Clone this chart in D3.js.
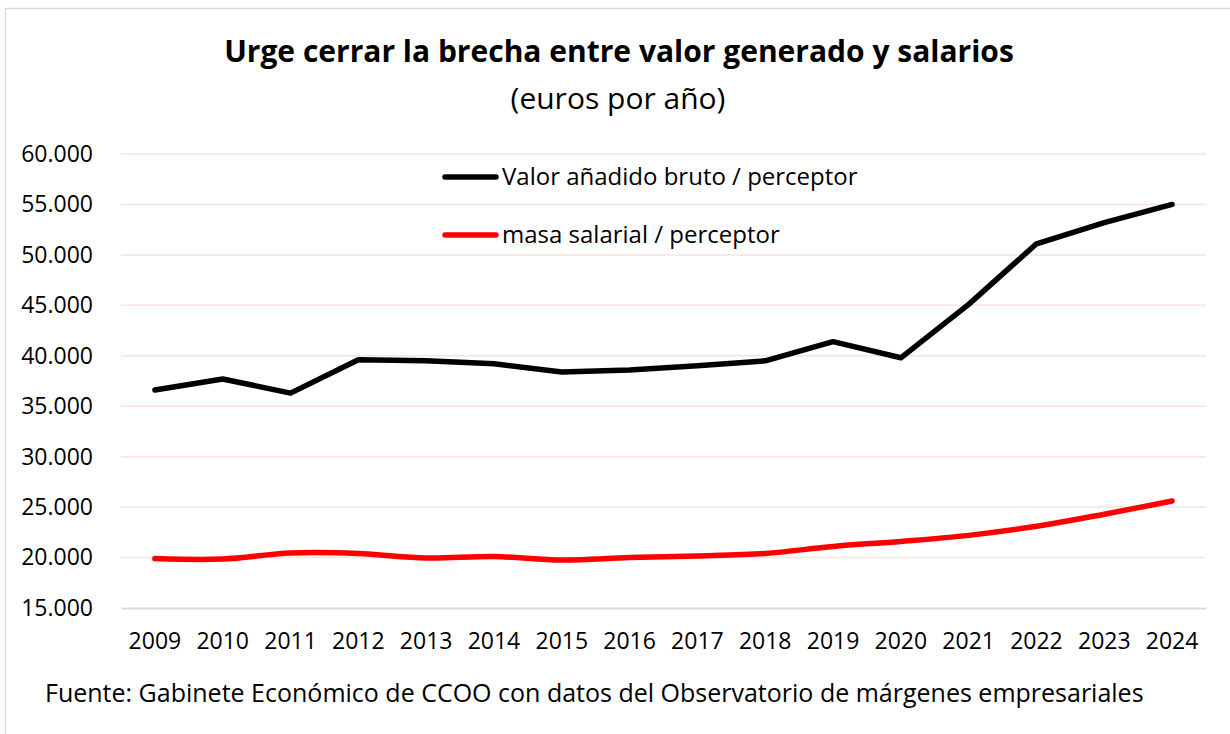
<!DOCTYPE html>
<html>
<head>
<meta charset="utf-8">
<script src="https://cdn.jsdelivr.net/npm/d3@7.9.0/dist/d3.min.js"></script>
<style>
  body { margin: 0; background: #fff; }
  svg text { font-family: "Open Sans", "Noto Sans", sans-serif; fill: #000; }
</style>
</head>
<body>
<svg id="chart" width="1230" height="734"></svg>
<script>
// data
const years = ["2009", "2010", "2011", "2012", "2013", "2014", "2015", "2016",
               "2017", "2018", "2019", "2020", "2021", "2022", "2023", "2024"];
const valorAnadido = [36600, 37700, 36300, 39600, 39500, 39200, 38400, 38600,
                      39000, 39500, 41400, 39800, 45100, 51100, 53200, 55000];
const masaSalarial = [19900, 19850, 20450, 20400, 19950, 20100, 19750, 20000,
                      20150, 20400, 21100, 21600, 22200, 23100, 24300, 25600];
const yTicks = [15000, 20000, 25000, 30000, 35000, 40000, 45000, 50000, 55000, 60000];

const svg = d3.select("#chart");

// outer frame
svg.append("rect")
    .attr("x", 5.5).attr("y", 8.5)
    .attr("width", 1240).attr("height", 740)
    .attr("fill", "none").attr("stroke", "#d9d9d9").attr("stroke-width", 1.5);

const plotLeft = 121, plotRight = 1206, plotTop = 154, plotBottom = 608;

const x = d3.scaleBand().domain(years).range([plotLeft, plotRight]);
const y = d3.scaleLinear().domain([15000, 60000]).range([plotBottom, plotTop]);

// number format with dot thousands separator
const fmt = d3.formatLocale({ decimal: ",", thousands: ".", grouping: [3], currency: ["", "€"] }).format(",");

// gridlines
svg.append("g")
    .selectAll("line")
    .data(yTicks.filter(d => d > 15000))
    .join("line")
    .attr("x1", plotLeft).attr("x2", plotRight)
    .attr("y1", d => y(d)).attr("y2", d => y(d))
    .attr("stroke", "#fbe2da").attr("stroke-width", 1.5);

// y axis
const yAxis = svg.append("g")
    .attr("transform", `translate(${plotLeft},0)`)
    .call(d3.axisLeft(y).tickValues(yTicks).tickFormat(fmt).tickSize(0).tickPadding(28));
yAxis.select(".domain").remove();
yAxis.selectAll("text").attr("font-size", 23).attr("font-family", "Open Sans").attr("fill", "#000");

// x axis
const xAxis = svg.append("g")
    .attr("transform", `translate(0,${plotBottom})`)
    .call(d3.axisBottom(x).tickSize(0).tickPadding(25));
xAxis.select(".domain").attr("stroke", "#d9d9d9").attr("stroke-width", 2);
xAxis.selectAll("text").attr("font-size", 23).attr("font-family", "Open Sans").attr("fill", "#000");

const cx = d => x(d) + x.bandwidth() / 2;

// lines
const lineStraight = d3.line()
    .x((d, i) => cx(years[i]))
    .y(d => y(d));
const lineSmooth = d3.line()
    .x((d, i) => cx(years[i]))
    .y(d => y(d))
    .curve(d3.curveCatmullRom);

svg.append("path")
    .datum(masaSalarial)
    .attr("d", lineSmooth)
    .attr("fill", "none").attr("stroke", "#ff0000")
    .attr("stroke-width", 5.5).attr("stroke-linecap", "round").attr("stroke-linejoin", "round");

svg.append("path")
    .datum(valorAnadido)
    .attr("d", lineStraight)
    .attr("fill", "none").attr("stroke", "#000")
    .attr("stroke-width", 5.5).attr("stroke-linecap", "round").attr("stroke-linejoin", "round");

// legend
const legend = [
    { label: "Valor añadido bruto / perceptor", color: "#000", y: 177 },
    { label: "masa salarial / perceptor", color: "#ff0000", y: 235 }
];
const lg = svg.append("g").selectAll("g").data(legend).join("g");
lg.append("line")
    .attr("x1", 445).attr("x2", 496)
    .attr("y1", d => d.y).attr("y2", d => d.y)
    .attr("stroke", d => d.color).attr("stroke-width", 5.5).attr("stroke-linecap", "round");
lg.append("text")
    .attr("x", 502).attr("y", d => d.y)
    .attr("dy", "0.35em")
    .attr("font-size", 24)
    .text(d => d.label);

// titles
svg.append("text")
    .attr("x", 619).attr("y", 62)
    .attr("text-anchor", "middle")
    .attr("font-size", 30).attr("font-weight", "bold")
    .text("Urge cerrar la brecha entre valor generado y salarios");
svg.append("text")
    .attr("x", 618).attr("y", 109)
    .attr("text-anchor", "middle")
    .attr("font-size", 30)
    .text("(euros por año)");

// source
svg.append("text")
    .attr("x", 45).attr("y", 702)
    .attr("font-size", 25)
    .text("Fuente: Gabinete Económico de CCOO con datos del Observatorio de márgenes empresariales");
</script>
</body>
</html>
